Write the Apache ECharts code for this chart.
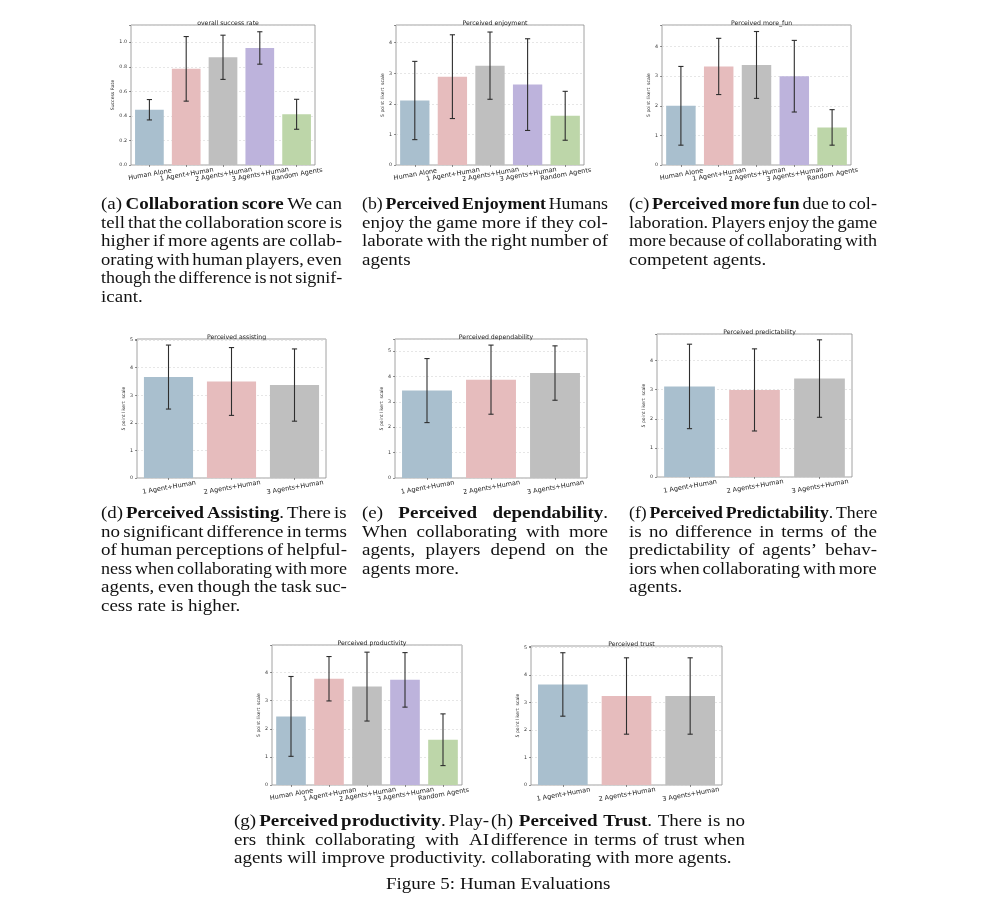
<!DOCTYPE html>
<html>
<head>
<meta charset="utf-8">
<script src="https://cdn.jsdelivr.net/npm/echarts@6/dist/echarts.min.js"></script>
<style>
  html, body { margin:0; padding:0; background:#fff; }
  #wrap { position:relative; width:1000px; height:916px; overflow:hidden; background:#fff; }
  #chart { position:absolute; left:0; top:0; width:1000px; height:916px; }
  .cap { position:absolute; height:22px; line-height:22px; font-family:'Liberation Serif','Times New Roman',serif; font-size:19px; color:#111; white-space:nowrap; transform-origin:left center; }
  .just { display:flex; justify-content:space-between; column-gap:3px; }
</style>
</head>
<body>
<div id="wrap">
  <div id="chart"></div>
  <div id="caps"></div>
</div>
<script>
// ---------- data ----------
const cats5 = ['Human Alone', '1 Agent+Human', '2 Agents+Human', '3 Agents+Human', 'Random Agents'];
const cats3 = ['1 Agent+Human', '2 Agents+Human', '3 Agents+Human'];

const successMean = [0.45, 0.783, 0.877, 0.953, 0.413];
const successErr  = [0.083, 0.263, 0.18, 0.132, 0.122];

const enjoyMean = [2.11, 2.89, 3.25, 2.63, 1.61];
const enjoyErr  = [1.28, 1.37, 1.10, 1.50, 0.80];

const funMean = [2.0, 3.33, 3.38, 3.0, 1.27];
const funErr  = [1.33, 0.95, 1.13, 1.21, 0.60];

const assistMean = [3.66, 3.50, 3.37];
const assistErr  = [1.16, 1.23, 1.31];

const dependMean = [3.44, 3.87, 4.13];
const dependErr  = [1.26, 1.36, 1.07];

const predictMean = [3.11, 2.99, 3.38];
const predictErr  = [1.45, 1.41, 1.33];

const prodMean = [2.44, 3.78, 3.50, 3.74, 1.61];
const prodErr  = [1.42, 0.79, 1.225, 0.97, 0.92];

const trustMean = [3.66, 3.24, 3.24];
const trustErr  = [1.155, 1.39, 1.39];

const titles = ['overall success rate', 'Perceived enjoyment', 'Perceived more_fun', 'Perceived assisting',
                'Perceived dependability', 'Perceived predictability', 'Perceived productivity', 'Perceived trust'];
const yNames = ['Success Rate', '5 point likert  scale'];

// ---------- layout ----------
const palette = ['#a9bfce', '#e6bcbd', '#bfbfbf', '#bdb3dc', '#bdd6a9'];
const panels = [
  { cats: cats5, mean: successMean, err: successErr, title: titles[0], yName: yNames[0], max: 1.14, step: 0.2, dec: 1, g: { left: 131, top: 25, width: 184, height: 140 } },
  { cats: cats5, mean: enjoyMean,   err: enjoyErr,   title: titles[1], yName: yNames[1], max: 4.58, step: 1, dec: 0, g: { left: 396, top: 25, width: 188, height: 140 } },
  { cats: cats5, mean: funMean,     err: funErr,     title: titles[2], yName: yNames[1], max: 4.73, step: 1, dec: 0, g: { left: 662, top: 25, width: 189, height: 140 } },
  { cats: cats3, mean: assistMean,  err: assistErr,  title: titles[3], yName: yNames[1], max: 5.04, step: 1, dec: 0, g: { left: 137, top: 339, width: 189, height: 139 } },
  { cats: cats3, mean: dependMean,  err: dependErr,  title: titles[4], yName: yNames[1], max: 5.47, step: 1, dec: 0, g: { left: 395, top: 339, width: 192, height: 139 } },
  { cats: cats3, mean: predictMean, err: predictErr, title: titles[5], yName: yNames[1], max: 4.91, step: 1, dec: 0, g: { left: 657, top: 334, width: 195, height: 143 } },
  { cats: cats5, mean: prodMean,    err: prodErr,    title: titles[6], yName: yNames[1], max: 4.98, step: 1, dec: 0, g: { left: 272, top: 645, width: 190, height: 140 } },
  { cats: cats3, mean: trustMean,   err: trustErr,   title: titles[7], yName: yNames[1], max: 5.06, step: 1, dec: 0, g: { left: 531, top: 646, width: 191, height: 139 } }
];

function errRender(params, api) {
  const x = api.value(0), lo = api.value(1), hi = api.value(2);
  const a = api.coord([x, lo]), b = api.coord([x, hi]);
  const cw = 2.6;
  const st = { stroke: '#2e2e2e', lineWidth: 1.1 };
  return { type: 'group', children: [
    { type: 'line', shape: { x1: a[0], y1: a[1], x2: b[0], y2: b[1] }, style: st },
    { type: 'line', shape: { x1: a[0] - cw, y1: a[1], x2: a[0] + cw, y2: a[1] }, style: st },
    { type: 'line', shape: { x1: b[0] - cw, y1: b[1], x2: b[0] + cw, y2: b[1] }, style: st }
  ]};
}

const FONT = 'DejaVu Sans';
const option = { animation: false, backgroundColor: '#fff', title: [], grid: [], xAxis: [], yAxis: [], series: [] };
panels.forEach((p, i) => {
  option.title.push({
    text: p.title, left: p.g.left + p.g.width / 2, top: p.g.top - 10, textAlign: 'center',
    textStyle: { fontFamily: FONT, fontSize: 6.2, fontWeight: 'normal', color: '#222' }
  });
  option.grid.push(Object.assign({ show: true, borderColor: '#8a8a8a', borderWidth: 0.8, backgroundColor: 'transparent' }, p.g));
  option.xAxis.push({
    type: 'category', gridIndex: i, data: p.cats,
    axisLine: { show: false },
    axisTick: { show: true, alignWithLabel: true, length: 2, lineStyle: { color: '#444', width: 0.6 } },
    axisLabel: { interval: 0, rotate: 10, align: 'center', verticalAlign: 'top', margin: 6, fontFamily: FONT, fontSize: 6.5, color: '#222' },
    splitLine: { show: false }
  });
  option.yAxis.push({
    type: 'value', gridIndex: i, min: 0, max: p.max, interval: p.step,
    name: p.yName, nameLocation: 'middle', nameRotate: 90, nameGap: 10,
    nameTextStyle: { fontFamily: FONT, fontSize: 4.6, color: '#333' },
    axisLine: { show: false },
    axisTick: { show: true, length: 2, lineStyle: { color: '#444', width: 0.6 } },
    axisLabel: {
      fontFamily: FONT, fontSize: 4.8, color: '#333', margin: 4,
      formatter: v => {
        const k = Math.round(v / p.step);
        if (Math.abs(v - k * p.step) > 1e-6) return '';
        return p.dec ? v.toFixed(p.dec) : String(Math.round(v));
      }
    },
    splitLine: { show: true, lineStyle: { color: '#d6d6d6', type: [2, 2], width: 0.6 } }
  });
  option.series.push({
    type: 'bar', xAxisIndex: i, yAxisIndex: i, data: p.mean, barCategoryGap: '22%', silent: true,
    itemStyle: { color: pp => palette[pp.dataIndex] }
  });
  option.series.push({
    type: 'custom', xAxisIndex: i, yAxisIndex: i, silent: true, z: 10,
    data: p.mean.map((m, j) => [j, m - p.err[j], m + p.err[j]]),
    renderItem: errRender
  });
});

const chart = echarts.init(document.getElementById('chart'), null, { renderer: 'canvas' });
chart.setOption(option);

// ---------- captions ----------
const LH = 18.6;
const captions = [
  { x: 101, y: 203, w: 241, lines: [
    '(a) *Collaboration score* We can',
    'tell that the collaboration score is',
    'higher if more agents are collab-',
    'orating with human players, even',
    'though the difference is not signif-',
    'icant.'] },
  { x: 362, y: 203, w: 246, lines: [
    '(b) *Perceived Enjoyment* Humans',
    'enjoy the game more if they col-',
    'laborate with the right number of',
    'agents'] },
  { x: 629, y: 203, w: 248, lines: [
    '(c) *Perceived more fun* due to col-',
    'laboration. Players enjoy the game',
    'more because of collaborating with',
    'competent agents.'] },
  { x: 101, y: 512, w: 246, lines: [
    '(d) *Perceived Assisting*. There is',
    'no significant difference in terms',
    'of human perceptions of helpful-',
    'ness when collaborating with more',
    'agents, even though the task suc-',
    'cess rate is higher.'] },
  { x: 362, y: 512, w: 246, lines: [
    '(e) *Perceived dependability*.',
    'When collaborating with more',
    'agents, players depend on the',
    'agents more.'] },
  { x: 629, y: 512, w: 248, lines: [
    '(f) *Perceived Predictability*. There',
    'is no difference in terms of the',
    "predictability of agents\u2019 behav-",
    'iors when collaborating with more',
    'agents.'] },
  { x: 234, y: 820, w: 255, lines: [
    '(g) *Perceived productivity*. Play-',
    'ers think collaborating with AI',
    'agents will improve productivity.'] },
  { x: 491, y: 820, w: 254, lines: [
    '(h) *Perceived Trust*. There is no',
    'difference in terms of trust when',
    'collaborating with more agents.'] }
];
const figureCaption = 'Figure 5: Human Evaluations';

const capsEl = document.getElementById('caps');
const SY = 0.93;
function addLine(text, x, yc, w, justify) {
  const d = document.createElement('div');
  d.className = 'cap' + (justify ? ' just' : '');
  d.style.left = x + 'px';
  d.style.top = (yc - 11) + 'px';
  if (w) d.style.width = w + 'px';
  let bold = false;
  const words = text.split(' ');
  words.forEach((wd, wi) => {
    const span = document.createElement('span');
    let seg = '', segBold = bold;
    const flush = () => {
      if (!seg) return;
      const s = document.createElement('span');
      s.textContent = seg;
      if (segBold) s.style.fontWeight = 'bold';
      span.appendChild(s);
      seg = '';
    };
    for (const ch of wd) {
      if (ch === '*') { flush(); bold = !bold; segBold = bold; }
      else seg += ch;
    }
    flush();
    d.appendChild(span);
    if (!justify && wi < words.length - 1) {
      const sp = document.createElement('span');
      sp.textContent = ' ';
      sp.style.whiteSpace = 'pre';
      if (bold) sp.style.fontWeight = 'bold';
      d.appendChild(sp);
    }
  });
  capsEl.appendChild(d);
  let sx = 1;
  if (w && d.scrollWidth > w) sx = w / d.scrollWidth;
  d.style.transform = 'scale(' + sx + ',' + SY + ')';
  return d;
}
captions.forEach(c => {
  c.lines.forEach((ln, k) => {
    const last = k === c.lines.length - 1;
    addLine(ln, c.x, c.y + k * LH, c.w, !last);
  });
});
const fc = addLine(figureCaption, 0, 883, 0, false);
fc.style.left = (498 - fc.offsetWidth / 2) + 'px';
</script>
</body>
</html>
